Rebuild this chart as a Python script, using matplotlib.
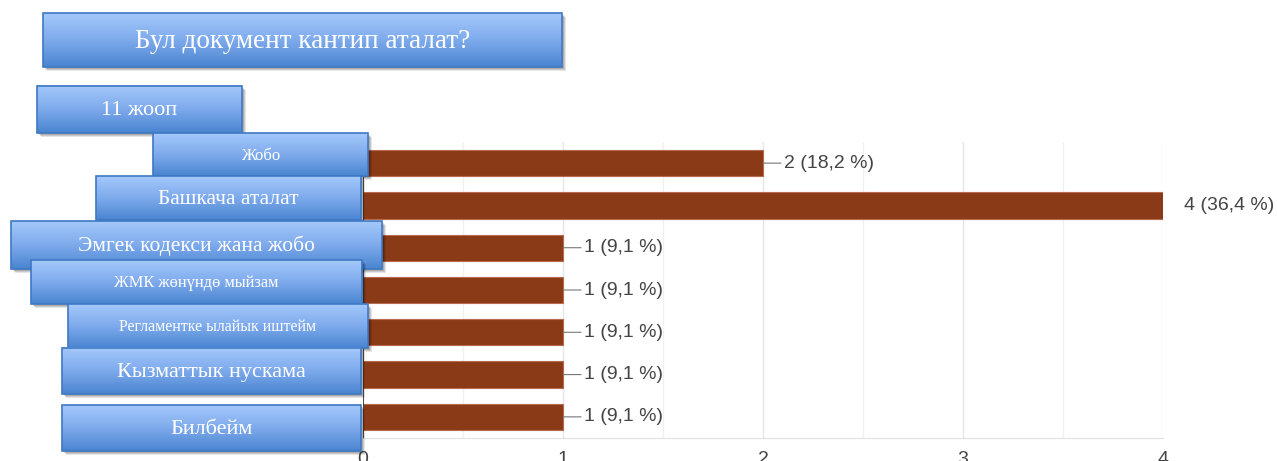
import matplotlib.pyplot as plt
import numpy as np
from matplotlib.patches import Rectangle
from matplotlib.colors import LinearSegmentedColormap

title = 'Бул документ кантип аталат?'
responses = '11 жооп'
categories = ['Жобо', 'Башкача аталат', 'Эмгек кодекси жана жобо',
              'ЖМК жөнүндө мыйзам', 'Регламентке ылайык иштейм',
              'Кызматтык нускама', 'Билбейм']
counts = [2, 4, 1, 1, 1, 1, 1]
percents = [18.2, 36.4, 9.1, 9.1, 9.1, 9.1, 9.1]
x_ticks = [0, 1, 2, 3, 4]

# box layout in pixels: left, top, right, bottom, font size
title_box = (43, 13, 562, 67, 19.5)
responses_box = (37, 86, 242, 133, 16)
label_boxes = [(153, 133, 368, 176, 12),
               (96, 176, 361, 220, 15.5),
               (11, 221, 382, 269, 15.5),
               (31, 260, 362, 304, 11.8),
               (68, 304, 368, 348, 11.5),
               (62, 348, 361, 394, 16),
               (62, 405, 361, 451, 16)]

W, H = 1277, 461
fig = plt.figure(figsize=(W / 100, H / 100), dpi=100)
ax = fig.add_axes([363 / W, 23 / H, 800 / W, 296 / H])

y = np.arange(len(categories))
ax.barh(y, counts, height=0.62, color='#8b3a17', edgecolor='#b86a4c',
        linewidth=0.8, zorder=3)
ax.set_ylim(len(categories) - 0.5, -0.5)
ax.set_xlim(0, 4)
ax.set_xticks(x_ticks)
ax.set_xticks(np.arange(0.5, 4, 1), minor=True)
ax.grid(axis='x', which='major', color='#e6e6e6', lw=1, zorder=0)
ax.grid(axis='x', which='minor', color='#f0f0f0', lw=1, zorder=0)
ax.set_yticks([])
ax.tick_params(axis='x', which='both', length=0, pad=9, labelsize=14,
               labelcolor='#444444')
for lab in ax.get_xticklabels():
    lab.set_family('Liberation Sans')
for s in ['top', 'right', 'left']:
    ax.spines[s].set_visible(False)
ax.spines['bottom'].set_color('#e0e0e0')
ax.axvline(0, color='#333333', lw=1.2, zorder=4)

for yi, c, p in zip(y, counts, percents):
    label = f'{c} ({p:.1f} %)'.replace('.', ',')
    if c == max(counts):
        ax.annotate(label, (c, yi), xytext=(15, 0), textcoords='offset points',
                    va='center', ha='left', fontsize=14, color='#444444',
                    family='Liberation Sans', annotation_clip=False)
    else:
        ax.annotate(label, (c, yi), xytext=(15, 0), textcoords='offset points',
                    va='center', ha='left', fontsize=14, color='#444444',
                    family='Liberation Sans', annotation_clip=False,
                    arrowprops=dict(arrowstyle='-', color='#777777', lw=0.8,
                                    shrinkA=0, shrinkB=0))

# overlay with the blue label boxes
ov = fig.add_axes([0, 0, 1, 1], zorder=10)
ov.patch.set_alpha(0)
cmap = LinearSegmentedColormap.from_list('box', ['#a3c8fb', '#7eaaec', '#4a85d0'])
grad = np.linspace(0, 1, 64).reshape(-1, 1)


def blue_box(box, text, z):
    l, t, r, b, size = box
    for k, a in [(4, 0.10), (3, 0.12), (2, 0.15)]:
        ov.add_patch(Rectangle((l + k, t + k), r - l, b - t, color='black',
                               alpha=a, lw=0, zorder=z))
    ov.imshow(grad, extent=(l, r, b, t), aspect='auto', cmap=cmap,
              interpolation='bicubic', zorder=z + 1)
    ov.add_patch(Rectangle((l, t), r - l, b - t, fill=False, ec='#3f78c4',
                           lw=1.2, zorder=z + 2))
    ov.text((l + r) / 2, (t + b) / 2 + 1, text, ha='center', va='center',
            fontsize=size, color='white', family='Liberation Serif',
            zorder=z + 3)


blue_box(title_box, title, 10)
blue_box(responses_box, responses, 20)
for i, (cat, box) in enumerate(zip(categories, label_boxes)):
    blue_box(box, cat, 30 + 10 * i)

ov.set_xlim(0, W)
ov.set_ylim(H, 0)
ov.axis('off')

fig.savefig('out.png', dpi=100)
